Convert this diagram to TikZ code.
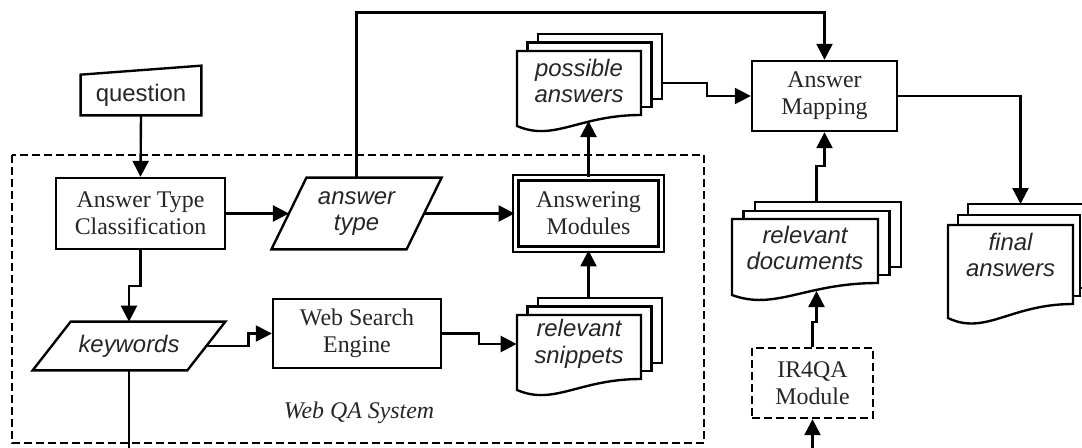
\documentclass[tikz,border=0pt]{standalone}
\usepackage{fontspec}
\setmainfont{Liberation Serif}
\setsansfont{Liberation Sans}
\usepackage{tikz}
\usetikzlibrary{arrows.meta}

\begin{document}
\begin{tikzpicture}[x=0.02cm,y=-0.02cm,
	line/.style={line width=1.35pt},
	flow/.style={line width=1.35pt,-{Triangle[length=0.32cm,width=0.32cm]}},
	txt/.style={text=black!85,align=center,inner sep=0pt,font=\fontsize{13.6}{15.3}\selectfont},
	proc/.style={txt,draw,line width=1.35pt,fill=white},
	data/.style={txt,font=\fontsize{13.6}{15.3}\selectfont\sffamily\itshape},
	dashbox/.style={line width=1.35pt,dash pattern=on 0.16cm off 0.08cm}]
		\useasboundingbox (0,0) rectangle (1082,447);
		% the web qa frame
		\draw[dashbox] (12,155) rectangle (704,443);
		\node[txt,font=\fontsize{13.6}{15.3}\selectfont\itshape] (webqa) at (359,413) {Web QA System};

		\node[txt,font=\fontsize{13.6}{15.3}\selectfont\sffamily,minimum width=2.4cm,minimum height=0.8cm] (question) at (141,95) {question};
		\draw[line] (question.south west) -- (question.north west) -- ([yshift=0.18cm]question.north east) -- (question.south east) -- cycle;

		\node[proc,minimum width=3.38cm,minimum height=1.42cm] (atc) at (140.5,213.5) {Answer Type\\Classification};
		\node[data,minimum width=2.69cm,minimum height=1.42cm] (atype) at (356.5,213.5) {answer\\type};
		\draw[line] ([xshift=-0.35cm]atype.south west) -- ([xshift=0.35cm]atype.north west) -- ([xshift=0.35cm]atype.north east) -- ([xshift=-0.35cm]atype.south east) -- cycle;
		\node[proc,double,double distance=1.75pt,minimum width=2.91cm,minimum height=1.43cm] (ansmod) at (588.5,213.5) {Answering\\Modules};
		\node[data,minimum width=3.08cm,minimum height=0.96cm] (keywords) at (129,346) {keywords};
		\draw[line] ([xshift=-0.38cm]keywords.south west) -- ([xshift=0.38cm]keywords.north west) -- ([xshift=0.38cm]keywords.north east) -- ([xshift=-0.38cm]keywords.south east) -- cycle;
		\node[proc,minimum width=3.36cm,minimum height=1.38cm] (wse) at (357,333.5) {Web Search\\Engine};
		\node[proc,minimum width=2.9cm,minimum height=1.4cm] (mapping) at (824.5,96) {Answer\\Mapping};
		\node[proc,dashbox,minimum width=2.42cm,minimum height=1.4cm] (ir4qa) at (812.5,383) {IR4QA\\Module};

		% possible answers
		\draw[line,fill=white] (538,34) rectangle (662,99);
		\draw[line,fill=white] (527.5,42.5) rectangle (651.5,107);
		\draw[line,fill=white] (517,51) -- (641,51) -- (641,115) .. controls (579,115) and (554.2,142) .. (517,126) -- cycle;
		\node[data,minimum width=2.48cm] (possible) at (579,81) {possible\\answers};
		\coordinate (pa-b) at (588.5,121);
		\coordinate (pa-r) at (662,83);
		% relevant snippets
		\draw[line,fill=white] (538,298) rectangle (662,363);
		\draw[line,fill=white] (527.5,306.5) rectangle (651.5,371);
		\draw[line,fill=white] (517,315) -- (641,315) -- (641,379) .. controls (579,379) and (554.2,406) .. (517,390) -- cycle;
		\node[data,minimum width=2.48cm] (snippets) at (579,344) {relevant\\snippets};
		\coordinate (sn-t) at (588.5,298);
		% relevant documents
		\draw[line,fill=white] (755,202) rectangle (901,267);
		\draw[line,fill=white] (743.5,211) rectangle (889.5,275);
		\draw[line,fill=white] (732,219) -- (878,219) -- (878,283) .. controls (805,283) and (775.8,311) .. (732,295) -- cycle;
		\node[data,minimum width=2.92cm] (reldocs) at (805,248) {relevant\\documents};
		\coordinate (rd-t) at (816.5,202);
		\coordinate (rd-b) at (816.5,291);
		% final answers
		\draw[line,fill=white] (968,204) rectangle (1092,288);
		\draw[line,fill=white] (958,215) rectangle (1080,296);
		\draw[line,fill=white] (948,225) -- (1073,225) -- (1073,304) .. controls (1010.5,304) and (985.5,336) .. (948,318) -- cycle;
		\node[data,minimum width=2.5cm] (final) at (1010.5,255) {final\\answers};
		\coordinate (fa-t) at (1020.5,204);

		\coordinate (kw-out) at (129,452);
		\coordinate (ir-in) at (812.5,452);

		\draw[flow] (question.south) -- (atc.north);
		\draw[flow] (atc.east) -- (atype.west);
		\draw[flow] (atype.east) -- (ansmod.west);
		\draw[flow] (atype.north) -- ++(0,-165) -| (mapping.north);
		\draw[flow] (ansmod.north) -- (pa-b);
		\draw[flow] (pa-r) -- ++(45,0) |- (mapping.west);
		\draw[flow] (atc.south) -- ++(0,36) -| (keywords.north);
		\draw[flow] (keywords.east) -- ++(42,0) |- (wse.west);
		\draw[flow] (wse.east) -- ++(37,0) |- (snippets.west);
		\draw[flow] (sn-t) -- (ansmod.south);
		\draw[line] (keywords.south) -- (kw-out);
		\draw[flow] (ir-in) -- (ir4qa.south);
		\draw[flow] (ir4qa.north) -- ++(0,-25) -| (rd-b);
		\draw[flow] (rd-t) -- ++(0,-36) -| (mapping.south);
		\draw[flow] (mapping.east) -| (fa-t);
	\end{tikzpicture}
\end{document}
